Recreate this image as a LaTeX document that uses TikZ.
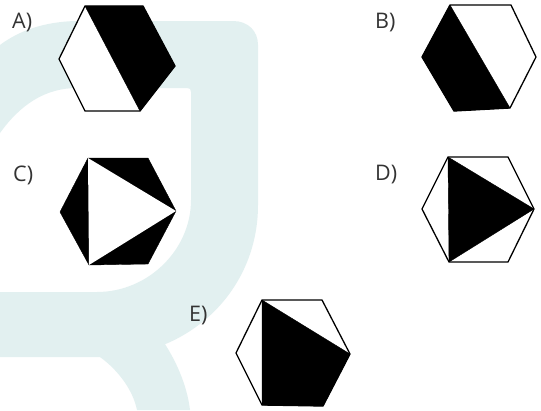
\documentclass[tikz,border=0pt]{standalone}
\usepackage{fontspec}
\setmainfont{Open Sans}
\definecolor{wm}{HTML}{E2F0F0}
\definecolor{lab}{HTML}{333333}
\tikzset{
  hexline/.style={draw=black,line width=1.3pt,line join=miter,fill=white},
  blk/.style={fill=black,draw=black,line width=.4pt,line join=round},
  wht/.style={fill=white,draw=none},
  lbl/.style={anchor=base west,inner sep=0pt,text=lab,font=\fontsize{21.5}{24}\selectfont},
  wmark/.style={fill=wm,draw=none}
}
\begin{document}
\begin{tikzpicture}[x=1pt,y=-1pt]
\useasboundingbox (0,0) rectangle (541,410);
\fill[white] (0,0) rectangle (541,410);
% watermark
\fill[wmark] (100,350) .. controls (125,345) and (145,340) .. (161,338)
  .. controls (176,360) and (187,385) .. (190,410) -- (137,410)
  .. controls (133,390) and (118,370) .. (100,357) -- cycle;
\fill[wmark] (0,45) .. controls (20,30) and (45,22) .. (75,21) -- (233,21)
  .. controls (248,21) and (258,31) .. (258,45) -- (258,205)
  .. controls (258,290) and (190,357) .. (100,357) -- (0,357) -- (0,292) -- (97,292)
  .. controls (148,292) and (191,250) .. (191,200) -- (191,92)
  .. controls (191,89) and (190,88) .. (187,88) -- (77,88)
  .. controls (45,88) and (20,105) .. (0,133) -- cycle;
% A
\draw[hexline] (85,6) -- (143,6) -- (175,66) -- (140,111) -- (85,111) -- (59,59) -- cycle;
\draw[blk] (85,6) -- (143,6) -- (175,66) -- (140,111) -- cycle;
% B
\draw[hexline] (450,5) -- (511,5) -- (536,57) -- (510,108) -- (454,111) -- (422,57) -- cycle;
\draw[blk] (450,5) -- (510,108) -- (454,111) -- (422,57) -- cycle;
% C
\draw[blk] (88,158) -- (148,158) -- (176,211) -- (148,264) -- (89,265) -- (60,212) -- cycle;
\fill[wht] (88,158) -- (176,211) -- (89,265) -- cycle;
% D
\draw[hexline] (448,157) -- (508,157) -- (534,209) -- (508,262) -- (449,262) -- (422,209) -- cycle;
\draw[blk] (448,157) -- (534,209) -- (449,262) -- cycle;
% E
\draw[hexline] (262,300) -- (322,300) -- (350,354) -- (323,406) -- (262,405) -- (236,353) -- cycle;
\draw[blk] (262,300) -- (350,354) -- (323,406) -- (262,405) -- cycle;
% labels
\node[lbl] (la) at (12,28) {A)};
\node[lbl] (lb) at (375,28) {B)};
\node[lbl] (lc) at (13,181) {C)};
\node[lbl] (ld) at (375,180) {D)};
\node[lbl] (le) at (189,321) {E)};
\end{tikzpicture}
\end{document}
